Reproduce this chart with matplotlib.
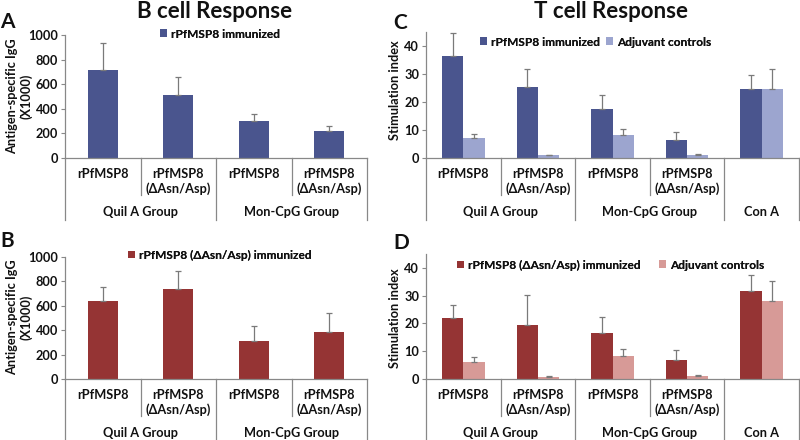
import matplotlib
matplotlib.use("Agg")
import matplotlib.pyplot as plt
import numpy as np
from matplotlib.transforms import blended_transform_factory

plt.rcParams['font.family'] = ['Lato', 'DejaVu Sans']
plt.rcParams['font.weight'] = 'bold'

# ---------------- data ----------------
cat_ab = ["rPfMSP8", "rPfMSP8\n(ΔAsn/Asp)", "rPfMSP8", "rPfMSP8\n(ΔAsn/Asp)"]
cat_cd = ["rPfMSP8", "rPfMSP8\n(ΔAsn/Asp)", "rPfMSP8", "rPfMSP8\n(ΔAsn/Asp)", ""]
groups_ab = ["Quil A Group", "Mon-CpG Group"]
groups_cd = ["Quil A Group", "Mon-CpG Group", "Con A"]

a_vals = [718, 510, 300, 218]
a_err = [220, 145, 60, 40]
b_vals = [638, 738, 313, 388]
b_err = [117, 147, 120, 153]

c_imm = [36.6, 25.4, 17.5, 6.5, 24.5]
c_imm_err = [8.0, 6.4, 4.9, 2.7, 5.0]
c_adj = [7.3, 0.9, 8.2, 1.2, 24.8]
c_adj_err = [1.4, 0.0, 2.0, 0.3, 7.0]

d_imm = [22.0, 19.4, 16.4, 6.9, 31.8]
d_imm_err = [4.6, 11.0, 6.1, 3.5, 5.6]
d_adj = [6.0, 0.8, 8.2, 1.1, 28.0]
d_adj_err = [2.0, 0.2, 2.7, 0.3, 7.3]

blue_dark = "#4a558e"
blue_light = "#9ca5cf"
red_dark = "#953434"
red_light = "#d79a97"
grey = "#888888"
err_col = "#7a7a7a"
txt = "#111111"
FS = 9.2
LFS = 8.6

W, H = 800, 440
fig = plt.figure(figsize=(8, 4.4), dpi=100)


def rect(left, right, top, bottom):
    return [left / W, 1 - bottom / H, (right - left) / W, (bottom - top) / H]


def setup(ax, n, ymax, yticks, labels, groups, group_spans, short_seps, long_seps,
          ax_h_px, line_bottom_px):
    ax.set_xlim(-0.5, n - 0.5)
    ax.set_ylim(0, ymax)
    ax.set_yticks(yticks)
    ax.set_yticklabels([str(t) for t in yticks], fontsize=FS, fontweight='bold', color=txt)
    ax.tick_params(axis='y', direction='out', length=3, color=grey, width=0.8, pad=2)
    ax.set_xticks([])
    for s in ['top', 'right']:
        ax.spines[s].set_visible(False)
    for s in ['left', 'bottom']:
        ax.spines[s].set_color(grey)
        ax.spines[s].set_linewidth(0.9)
    tr = blended_transform_factory(ax.transData, ax.transAxes)
    f = lambda px: -px / ax_h_px
    for i, lab in enumerate(labels):
        if lab:
            ax.text(i, f(10), lab, transform=tr, ha='center', va='top', fontsize=FS,
                    fontweight='bold', color=txt, linespacing=1.2)
    for g, (a, b) in zip(groups, group_spans):
        ax.text((a + b) / 2, f(54), g, transform=tr, ha='center', va='center',
                fontsize=FS, fontweight='bold', color=txt)
    for x in short_seps:
        ax.plot([x, x], [0, f(37)], transform=tr, color=grey, lw=0.9, clip_on=False)
    for x in long_seps:
        ax.plot([x, x], [0, f(line_bottom_px)], transform=tr, color=grey, lw=0.9, clip_on=False)


def legend_at(handle, label, x_px, y_px):
    lg = fig.legend([handle], [label], loc='center left',
                    bbox_to_anchor=(x_px / W, 1 - y_px / H), frameon=False,
                    borderpad=0, borderaxespad=0, handlelength=0.6, handleheight=0.6,
                    handletextpad=0.3, prop={'size': LFS, 'weight': 'bold'})
    for t in lg.get_texts():
        t.set_color(txt)
    return lg


ekw = dict(fmt='none', ecolor=err_col, elinewidth=0.9, capsize=2.5, capthick=0.9)

# ---------- Panel A ----------
axA = fig.add_axes(rect(65, 367, 35, 158))
x4 = np.arange(4)
bA = axA.bar(x4, a_vals, width=0.4, color=blue_dark, zorder=2)
axA.errorbar(x4, a_vals, yerr=[np.zeros(4), a_err], zorder=3, **ekw)
setup(axA, 4, 1000, [0, 200, 400, 600, 800, 1000], cat_ab, groups_ab,
      [(0, 1), (2, 3)], [0.5, 2.5], [-0.5, 1.5, 3.5], 123, 62)
fig.add_artist(legend_at(bA, "rPfMSP8 immunized", 160, 34))

# ---------- Panel B ----------
axB = fig.add_axes(rect(65, 367, 257, 379))
bB = axB.bar(x4, b_vals, width=0.4, color=red_dark, zorder=2)
axB.errorbar(x4, b_vals, yerr=[np.zeros(4), b_err], zorder=3, **ekw)
setup(axB, 4, 1000, [0, 200, 400, 600, 800, 1000], cat_ab, groups_ab,
      [(0, 1), (2, 3)], [0.5, 2.5], [-0.5, 1.5, 3.5], 122, 61)
fig.add_artist(legend_at(bB, "rPfMSP8 (ΔAsn/Asp) immunized", 128, 255))

# ---------- Panel C ----------
x5 = np.arange(5)
bw = 0.286
axC = fig.add_axes(rect(426, 799, 32, 158))
bC1 = axC.bar(x5 - bw / 2, c_imm, width=bw, color=blue_dark, zorder=2)
bC2 = axC.bar(x5 + bw / 2, c_adj, width=bw, color=blue_light, zorder=2)
axC.errorbar(x5 - bw / 2, c_imm, yerr=[np.zeros(5), c_imm_err], zorder=3, **ekw)
axC.errorbar(x5 + bw / 2, c_adj, yerr=[np.zeros(5), c_adj_err], zorder=3, **ekw)
setup(axC, 5, 45, [0, 10, 20, 30, 40], cat_cd, groups_cd,
      [(0, 1), (2, 3), (4, 4)], [0.5, 2.5], [-0.5, 1.5, 3.5, 4.5], 126, 62)
fig.add_artist(legend_at(bC1, "rPfMSP8 immunized", 480, 42))
fig.add_artist(legend_at(bC2, "Adjuvant controls", 606, 42))

# ---------- Panel D ----------
axD = fig.add_axes(rect(426, 799, 254, 379))
bD1 = axD.bar(x5 - bw / 2, d_imm, width=bw, color=red_dark, zorder=2)
bD2 = axD.bar(x5 + bw / 2, d_adj, width=bw, color=red_light, zorder=2)
axD.errorbar(x5 - bw / 2, d_imm, yerr=[np.zeros(5), d_imm_err], zorder=3, **ekw)
axD.errorbar(x5 + bw / 2, d_adj, yerr=[np.zeros(5), d_adj_err], zorder=3, **ekw)
setup(axD, 5, 45, [0, 10, 20, 30, 40], cat_cd, groups_cd,
      [(0, 1), (2, 3), (4, 4)], [0.5, 2.5], [-0.5, 1.5, 3.5, 4.5], 125, 61)
fig.add_artist(legend_at(bD1, "rPfMSP8 (ΔAsn/Asp) immunized", 457, 265))
fig.add_artist(legend_at(bD2, "Adjuvant controls", 659, 265))

# ---------- titles, letters, axis labels ----------
def ftext(x, y, s, **kw):
    fig.text(x / W, 1 - y / H, s, **kw)

ftext(215, 11, "B cell Response", ha='center', va='center', fontsize=16, fontweight='bold', color=txt)
ftext(611, 12, "T cell Response", ha='center', va='center', fontsize=16, fontweight='bold', color=txt)
for (x, y, s) in [(7, 22, "A"), (7, 241, "B"), (400, 23, "C"), (401, 243, "D")]:
    ftext(x, y, s, ha='center', va='center', fontsize=15, fontweight='bold', color=txt)

for y in (96, 317):
    ftext(19, y, "Antigen-specific IgG\n(X1000)", ha='center', va='center', rotation=90,
          fontsize=FS, fontweight='bold', color=txt, linespacing=1.15)
for y in (90, 318):
    ftext(395, y, "Stimulation index", ha='center', va='center', rotation=90,
          fontsize=FS, fontweight='bold', color=txt)

fig.savefig("out.png", dpi=100)
